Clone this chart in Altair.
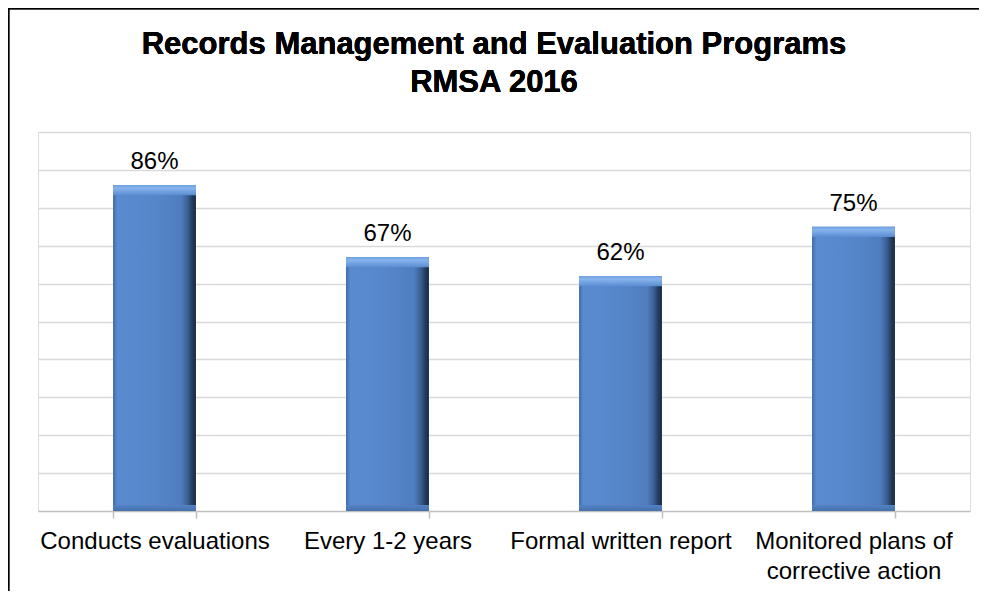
import altair as alt
import pandas as pd

categories = ["Conducts evaluations", "Every 1-2 years", "Formal written report",
              "Monitored plans of corrective action"]
values = [86, 67, 62, 75]
title_lines = ["Records Management and Evaluation Programs", "RMSA 2016"]

df = pd.DataFrame({"category": categories, "value": values})

FONT = "Liberation Sans"
W, H = 932, 379

x_enc = alt.X(
    "category:N", sort=categories, title=None,
    scale=alt.Scale(paddingInner=0.644, paddingOuter=0.322),
    axis=alt.Axis(
        labelAngle=0, labelFont=FONT, labelFontSize=24, labelColor="#000000",
        labelLineHeight=30, labelPadding=11, labelLimit=300,
        labelExpr="datum.label == 'Monitored plans of corrective action' ? ['Monitored plans of', 'corrective action'] : datum.label",
        domainColor="#bfbfbf", domainWidth=1.5,
        ticks=True, tickBand="extent", tickSize=7, tickColor="#bfbfbf", tickWidth=1.5,
        grid=False,
    ),
)
y_scale = alt.Scale(domain=[0, 100], nice=False, zero=True)
y_enc = alt.Y(
    "value:Q", scale=y_scale, title=None,
    axis=alt.Axis(values=list(range(10, 101, 10)), labels=False, ticks=False,
                  domain=False, grid=True, gridColor="#d9d9d9", gridWidth=1.5),
)

body_grad = alt.Gradient(
    gradient="linear", x1=0, x2=1, y1=0, y2=0,
    stops=[
        alt.GradientStop(color="#3f6aa6", offset=0.0),
        alt.GradientStop(color="#5a8ad0", offset=0.05),
        alt.GradientStop(color="#5686ca", offset=0.5),
        alt.GradientStop(color="#4f7ebf", offset=0.82),
        alt.GradientStop(color="#3a5f94", offset=0.9),
        alt.GradientStop(color="#22395a", offset=0.96),
        alt.GradientStop(color="#1b2d47", offset=1.0),
    ],
)
top_grad = alt.Gradient(
    gradient="linear", x1=0, x2=0, y1=0, y2=1,
    stops=[
        alt.GradientStop(color="#6e9fe0", offset=0.0),
        alt.GradientStop(color="#86b4ec", offset=0.3),
        alt.GradientStop(color="#5b8cd2", offset=1.0),
    ],
)
bottom_grad = alt.Gradient(
    gradient="linear", x1=0, x2=0, y1=0, y2=1,
    stops=[
        alt.GradientStop(color="#5383c5", offset=0.0),
        alt.GradientStop(color="#4670aa", offset=1.0),
    ],
)

base = alt.Chart(df)

bars = base.mark_bar(color=body_grad).encode(x=x_enc, y=y_enc)

top_bevel = base.transform_calculate(
    ytop="datum.value - 2.7"
).mark_bar(color=top_grad).encode(
    x=alt.X("category:N", sort=categories),
    y=alt.Y("value:Q", scale=y_scale),
    y2="ytop:Q",
)

bottom_bevel = base.transform_calculate(
    ybot="0", ybot2="1.6"
).mark_bar(color=bottom_grad).encode(
    x=alt.X("category:N", sort=categories),
    y=alt.Y("ybot2:Q", scale=y_scale),
    y2="ybot:Q",
)

labels = base.transform_calculate(
    lbl="datum.value + '%'"
).mark_text(font=FONT, fontSize=24, color="#000000", baseline="alphabetic", dy=-16).encode(
    x=alt.X("category:N", sort=categories),
    y=alt.Y("value:Q", scale=y_scale),
    text="lbl:N",
)

title = alt.Chart(df).mark_text(
    text=title_lines, font=FONT, fontSize=31, fontWeight="bold", color="#000000",
    lineHeight=38, align="center", baseline="alphabetic",
).encode(x=alt.value(W / 2 - 10), y=alt.value(-78))

left_border = alt.Chart(df).mark_rule(color="#000000", strokeWidth=1.5).encode(
    x=alt.value(-29.5), y=alt.value(-123.5), y2=alt.value(H + 90)
)
top_border = alt.Chart(df).mark_rule(color="#000000", strokeWidth=1.5).encode(
    x=alt.value(-30), x2=alt.value(W + 9), y=alt.value(-123.5)
)

chart = alt.layer(bars, top_bevel, bottom_bevel, labels, title, left_border, top_border).properties(
    width=W, height=H,
    autosize=alt.AutoSizeParams(type="none"),
    padding={"left": 30, "top": 124, "right": 9, "bottom": 80},
).configure_view(stroke=None).configure(background="#ffffff")

chart.save("out.html", embed_options={"renderer": "svg", "actions": False})
